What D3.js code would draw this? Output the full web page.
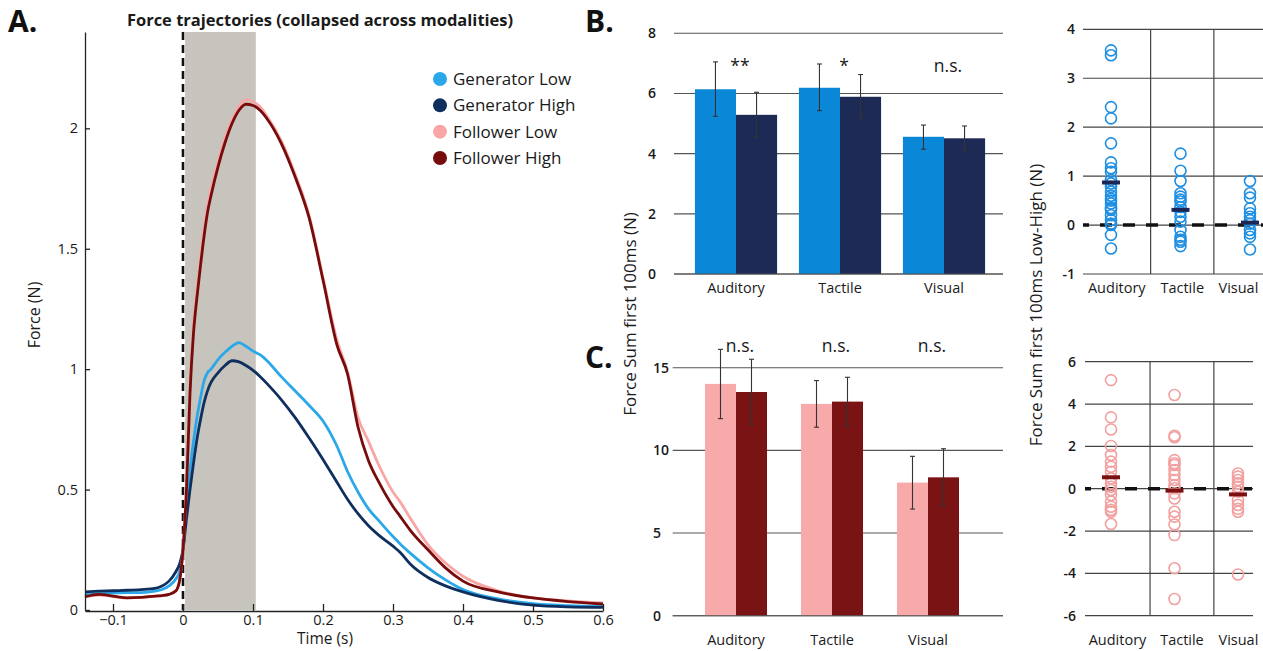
<!DOCTYPE html>
<html><head><meta charset="utf-8">
<script src="https://cdn.jsdelivr.net/npm/d3@7"></script>
<style>
body{margin:0;background:#fff}
svg{display:block;font-family:"Open Sans",sans-serif}
</style>
</head><body>
<svg id="c" width="1263" height="651"></svg>
<script>
// ---------------- DATA ----------------
const times = [-0.14,-0.12,-0.1,-0.08,-0.06,-0.04,-0.03,-0.02,-0.01,-0.005,0,0.005,0.01,0.015,0.02,0.025,0.03,0.035,0.04,0.05,0.06,0.07,0.08,0.09,0.1,0.11,0.12,0.14,0.16,0.18,0.2,0.22,0.235,0.25,0.265,0.28,0.3,0.31,0.325,0.35,0.375,0.4,0.45,0.5,0.55,0.6];
const genLow  = [0.066,0.068,0.07,0.072,0.072,0.078,0.085,0.1,0.13,0.16,0.25,0.42,0.58,0.7,0.8,0.88,0.95,0.985,1.0,1.04,1.07,1.095,1.11,1.095,1.075,1.06,1.035,0.97,0.91,0.85,0.785,0.68,0.575,0.49,0.42,0.37,0.305,0.275,0.235,0.175,0.125,0.085,0.046,0.026,0.018,0.014];
const genHigh = [0.075,0.078,0.08,0.082,0.085,0.09,0.1,0.12,0.16,0.19,0.25,0.38,0.5,0.61,0.71,0.79,0.86,0.91,0.945,0.985,1.015,1.035,1.03,1.015,0.995,0.97,0.94,0.875,0.8,0.715,0.625,0.53,0.46,0.4,0.35,0.31,0.265,0.24,0.19,0.135,0.1,0.075,0.04,0.02,0.013,0.011];
const follLow = [0.055,0.062,0.056,0.05,0.052,0.057,0.06,0.065,0.08,0.12,0.25,0.52,0.93,1.18,1.33,1.46,1.58,1.68,1.75,1.86,1.96,2.035,2.09,2.12,2.11,2.09,2.05,1.95,1.81,1.64,1.38,1.12,0.99,0.8,0.7,0.6,0.49,0.45,0.38,0.27,0.195,0.14,0.08,0.05,0.038,0.03];
const follHigh= [0.055,0.065,0.058,0.05,0.052,0.058,0.06,0.065,0.08,0.12,0.25,0.5,0.9,1.15,1.3,1.43,1.55,1.65,1.72,1.84,1.94,2.02,2.075,2.1,2.095,2.075,2.04,1.94,1.8,1.63,1.37,1.1,0.98,0.76,0.62,0.53,0.43,0.39,0.33,0.25,0.175,0.12,0.075,0.05,0.035,0.025];
const seriesNames = ["Generator Low","Generator High","Follower Low","Follower High"];
const timeTicks = [-0.1,0,0.1,0.2,0.3,0.4,0.5,0.6];
const forceTicks = [0,0.5,1,1.5,2];
const windowStart = 0.003, windowEnd = 0.104;

const modalities = ["Auditory","Tactile","Visual"];
const genBarLow  = [6.14,6.19,4.56];
const genBarHigh = [5.29,5.89,4.51];
const genErrLow  = [[5.24,7.05],[5.43,6.98],[4.15,4.95]];
const genErrHigh = [[4.56,6.04],[5.17,6.63],[4.10,4.92]];
const genSig = ["**","*","n.s."];
const genBarTicks = [0,2,4,6,8];

const follBarLow  = [14.02,12.81,8.05];
const follBarHigh = [13.53,12.95,8.37];
const follErrLow  = [[11.92,16.11],[11.40,14.22],[6.45,9.64]];
const follErrHigh = [[11.58,15.51],[11.43,14.42],[6.64,10.10]];
const follSig = ["n.s.","n.s.","n.s."];
const follBarTicks = [0,5,10,15];

const genDiffAud = [3.57,3.47,2.41,2.18,1.67,1.28,1.16,1.09,0.92,0.85,0.78,0.68,0.6,0.54,0.5,0.44,0.35,0.31,0.2,0.1,0.03,0.0,-0.2,-0.48];
const genDiffTac = [1.46,1.11,0.9,0.65,0.58,0.52,0.48,0.37,0.27,0.17,0.07,-0.1,-0.24,-0.3,-0.34,-0.43];
const genDiffVis = [0.9,0.65,0.56,0.34,0.24,0.17,0.1,0.03,-0.1,-0.17,-0.24,-0.5];
const genDiffMean = [0.87,0.31,0.05];
const genDiffTicks = [-1,0,1,2,3,4];

const follDiffAud = [5.13,3.37,2.8,2.02,1.59,1.28,1.04,0.8,0.49,0.25,0.09,-0.06,-0.3,-0.61,-0.85,-1.0,-1.09,-1.67];
const follDiffTac = [4.43,2.5,2.43,1.35,1.2,1.12,0.88,0.65,0.41,0.17,0.02,-0.22,-0.46,-1.09,-1.32,-1.69,-2.19,-3.76,-5.21];
const follDiffVis = [0.72,0.57,0.41,0.25,0.09,-0.14,-0.54,-0.77,-0.95,-1.09,-4.05];
const follDiffMean = [0.54,-0.09,-0.27];
const follDiffTicks = [-6,-4,-2,0,2,4,6];

// ---------------- STYLE ----------------
const C = {gl:"#2aa8ea", gh:"#0f2f5e", fl:"#f8a6a6", fh:"#780b0b",
           barGL:"#0a88d7", barGH:"#1d2a56", barFL:"#f8a9a9", barFH:"#7a1414",
           dotG:"#1f8fe3", dotF:"#f2a0a0", txt:"#1a1a1a", grid:"#555"};
const svg = d3.select("#c");

// ---------------- PANEL A ----------------
const xA = d3.scaleLinear([-0.14,0.6],[85,603]);
const yA = d3.scaleLinear([0,2.4],[610,32]);
const gA = svg.append("g");
gA.append("rect").attr("x",xA(windowStart)).attr("y",yA(2.4))
  .attr("width",xA(windowEnd)-xA(windowStart)).attr("height",yA(0)-yA(2.4))
  .attr("fill","#c6c4bc");
gA.append("line").attr("x1",xA(0)).attr("x2",xA(0)).attr("y1",yA(2.4)).attr("y2",yA(0))
  .attr("stroke","#111").attr("stroke-width",2.6).attr("stroke-dasharray","8,5");

const line = d3.line().x((d,i)=>xA(times[i])).y(d=>yA(d)).curve(d3.curveMonotoneX);
[[genLow,C.gl],[genHigh,C.gh],[follLow,C.fl],[follHigh,C.fh]].forEach(([s,col])=>{
  gA.append("path").attr("d",line(s)).attr("fill","none").attr("stroke",col).attr("stroke-width",2.8);
});

const axX = gA.append("g").attr("transform",`translate(0,${yA(0)+1})`)
  .call(d3.axisBottom(xA).tickValues(timeTicks).tickSizeInner(-7).tickSizeOuter(0).tickPadding(4).tickFormat(d3.format("")));
const axY = gA.append("g").attr("transform",`translate(${xA(-0.14)},0)`)
  .call(d3.axisLeft(yA).tickValues(forceTicks).tickSizeInner(-5).tickSizeOuter(0).tickPadding(7).tickFormat(d3.format("")));
[axX,axY].forEach(a=>{
  a.selectAll("path,line").attr("stroke","#222").attr("stroke-width",1.3);
  a.selectAll("text").attr("font-size",14.5).attr("fill",C.txt).attr("font-family","Open Sans");
});
gA.append("text").attr("x",325).attr("y",644).attr("text-anchor","middle").attr("font-size",15.5).attr("fill",C.txt).text("Time (s)");
gA.append("text").attr("transform","translate(40,315) rotate(-90)").attr("text-anchor","middle").attr("font-size",16).attr("fill",C.txt).text("Force (N)");
gA.append("text").attr("x",320).attr("y",26).attr("text-anchor","middle").attr("font-size",16.5).attr("font-weight",700).attr("fill",C.txt).text("Force trajectories (collapsed across modalities)");

const legY = d3.scaleLinear([0,3],[79,158]);
[C.gl,C.gh,C.fl,C.fh].forEach((col,i)=>{
  gA.append("circle").attr("cx",440).attr("cy",legY(i)).attr("r",7).attr("fill",col);
  gA.append("text").attr("x",453).attr("y",legY(i)).attr("dy","0.35em").attr("font-size",17).attr("fill",C.txt).text(seriesNames[i]);
});

// panel letters
[["A.",8,32],["B.",585,32],["C.",585,368]].forEach(([t,x,y])=>{
  svg.append("text").attr("x",x).attr("y",y).attr("font-size",30).attr("font-weight",700).attr("fill","#111").text(t);
});

// ---------------- BAR PANELS ----------------
function barPanel(cfg){
  const g = svg.append("g");
  const y = d3.scaleLinear(cfg.ydom, cfg.yrange);
  const x0 = d3.scaleBand(modalities, cfg.xrange).paddingInner(cfg.pad).paddingOuter(cfg.pad/2);
  const x1 = d3.scaleBand(["low","high"],[0,x0.bandwidth()]);
  g.selectAll(".gr").data(cfg.ticks).join("line")
    .attr("x1",cfg.gx[0]).attr("x2",cfg.gx[1]).attr("y1",d=>y(d)).attr("y2",d=>y(d))
    .attr("stroke",C.grid).attr("stroke-width",1.1);
  g.selectAll(".tk").data(cfg.ticks).join("text")
    .attr("x",cfg.tx).attr("y",d=>y(d)).attr("dy","0.35em").attr("text-anchor",cfg.tanchor)
    .attr("font-size",14).attr("font-weight",600).attr("fill",C.txt).text(d=>d);
  modalities.forEach((m,i)=>{
    [["low",cfg.low[i],cfg.errLow[i],cfg.cLow],["high",cfg.high[i],cfg.errHigh[i],cfg.cHigh]].forEach(([k,v,e,col])=>{
      const bx = x0(m)+x1(k);
      g.append("rect").attr("x",bx).attr("y",y(v)).attr("width",x1.bandwidth()).attr("height",y(0)-y(v)).attr("fill",col);
      const cx = bx + x1.bandwidth()/2;
      g.append("line").attr("x1",cx).attr("x2",cx).attr("y1",y(e[0])).attr("y2",y(e[1])).attr("stroke","#333").attr("stroke-width",1.1);
      e.forEach(ev=>g.append("line").attr("x1",cx-2.5).attr("x2",cx+2.5).attr("y1",y(ev)).attr("y2",y(ev)).attr("stroke","#333").attr("stroke-width",1.1));
    });
    g.append("text").attr("x",x0(m)+x0.bandwidth()/2).attr("y",cfg.labY).attr("text-anchor","middle")
      .attr("font-size",14.5).attr("fill",C.txt).text(m);
    g.append("text").attr("x",x0(m)+x0.bandwidth()/2+4).attr("y",cfg.sigY).attr("text-anchor","middle")
      .attr("font-size",17.5).attr("fill",C.txt).text(cfg.sig[i]);
  });
  g.append("line").attr("x1",cfg.gx[0]).attr("x2",cfg.gx[1]).attr("y1",y(0)).attr("y2",y(0)).attr("stroke",C.grid).attr("stroke-width",1.1);
}
barPanel({ydom:[0,8],yrange:[274,33.3],xrange:[684,996],pad:0.21,gx:[674,1003],ticks:genBarTicks,tx:656,tanchor:"end",
  low:genBarLow,high:genBarHigh,errLow:genErrLow,errHigh:genErrHigh,cLow:C.barGL,cHigh:C.barGH,labY:293,sigY:72,sig:genSig});
barPanel({ydom:[0,15],yrange:[615.7,367.7],xrange:[688,976],pad:0.354,gx:[672.7,1003],ticks:follBarTicks,tx:653,tanchor:"start",
  low:follBarLow,high:follBarHigh,errLow:follErrLow,errHigh:follErrHigh,cLow:C.barFL,cHigh:C.barFH,labY:645,sigY:352,sig:follSig});
svg.append("text").attr("transform","translate(636,314) rotate(-90)").attr("text-anchor","middle")
  .attr("font-size",17).attr("fill",C.txt).text("Force Sum first 100ms (N)");

// ---------------- SCATTER PANELS ----------------
function scatterPanel(cfg){
  const g = svg.append("g");
  const y = d3.scaleLinear(cfg.ydom, cfg.yrange);
  const x = d3.scaleLinear([1,3], cfg.xpos);
  const b1 = x(cfg.bounds[0]), b2 = x(cfg.bounds[1]);
  g.selectAll(".gr").data(cfg.ticks).join("line")
    .attr("x1",cfg.gx[0]).attr("x2",cfg.gx[1]).attr("y1",d=>y(d)).attr("y2",d=>y(d))
    .attr("stroke","#444").attr("stroke-width",1.2);
  [b1,b2].forEach(b=>g.append("line").attr("x1",b).attr("x2",b).attr("y1",y(cfg.ydom[1])).attr("y2",y(cfg.ydom[0]))
    .attr("stroke","#444").attr("stroke-width",1.2));
  g.selectAll(".tk").data(cfg.ticks).join("text")
    .attr("x",cfg.tx).attr("y",d=>y(d)).attr("dy","0.35em").attr("text-anchor","end")
    .attr("font-size",14).attr("font-weight",600).attr("fill",C.txt).text(d=>d);
  g.append("line").attr("x1",cfg.gx[0]).attr("x2",cfg.gx[1]).attr("y1",y(0)).attr("y2",y(0))
    .attr("stroke","#111").attr("stroke-width",3.4).attr("stroke-dasharray","12,11").attr("stroke-dashoffset",6);
  cfg.vals.forEach((arr,i)=>{
    g.selectAll(null).data(arr).join("circle").attr("cx",x(i+1)).attr("cy",d=>y(d)).attr("r",5.5)
      .attr("fill","none").attr("stroke",cfg.dot).attr("stroke-width",1.6);
    g.append("line").attr("x1",x(i+1)-9).attr("x2",x(i+1)+9).attr("y1",y(cfg.mean[i])).attr("y2",y(cfg.mean[i]))
      .attr("stroke",cfg.meanCol).attr("stroke-width",4);
  });
  const edges = [cfg.gx[0], b1, b2, cfg.edgeR];
  modalities.forEach((m,i)=>{
    g.append("text").attr("x",(edges[i]+edges[i+1])/2).attr("y",cfg.labY).attr("text-anchor","middle")
      .attr("font-size",14.5).attr("fill",C.txt).text(m);
  });
}
scatterPanel({ydom:[-1,4],yrange:[274,29.3],xpos:[1111,1250],bounds:[1.57,2.48],gx:[1083,1263],edgeR:1263,ticks:genDiffTicks,tx:1075,
  vals:[genDiffAud,genDiffTac,genDiffVis],mean:genDiffMean,dot:C.dotG,meanCol:"#1c2757",labY:293});
scatterPanel({ydom:[-6,6],yrange:[615.7,361.7],xpos:[1111,1238],bounds:[1.615,2.62],gx:[1085,1253],edgeR:1263,ticks:follDiffTicks,tx:1076,
  vals:[follDiffAud,follDiffTac,follDiffVis],mean:follDiffMean,dot:C.dotF,meanCol:"#7a1010",labY:645});
svg.append("text").attr("transform","translate(1042,305) rotate(-90)").attr("text-anchor","middle")
  .attr("font-size",17).attr("fill",C.txt).text("Force Sum first 100ms Low-High (N)");
</script>
</body></html>
